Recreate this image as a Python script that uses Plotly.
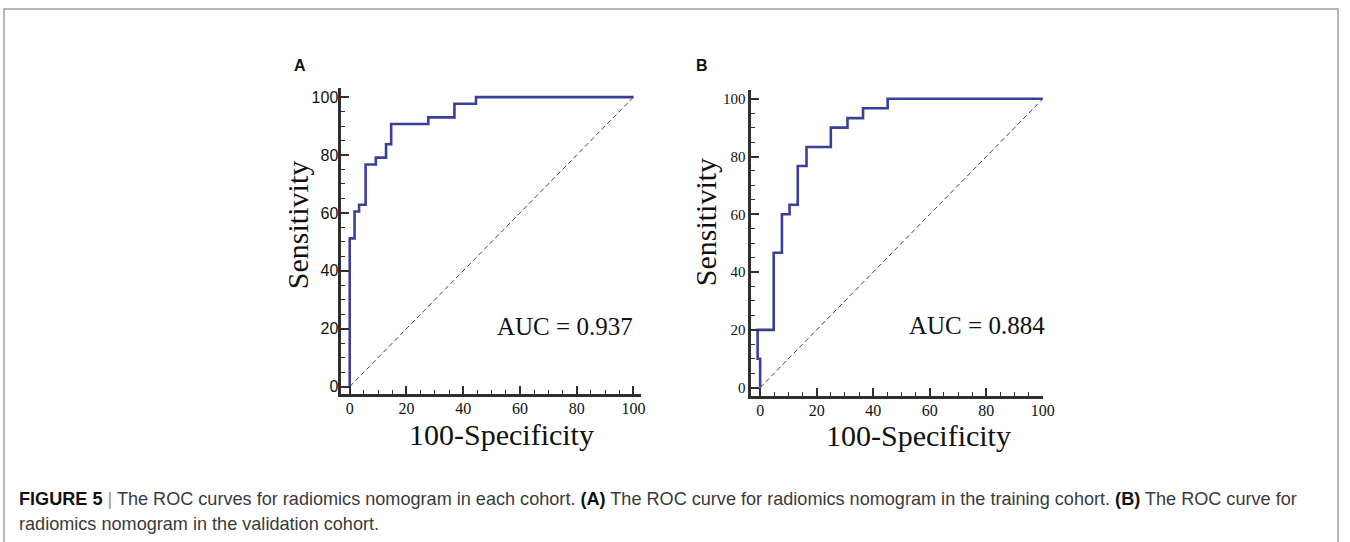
import plotly.graph_objects as go

# ---- data ----
fpr_train = [0, 0, 1.7, 3.3, 5.6, 9.2, 12.8, 14.6, 27.7, 36.9, 44.5, 100]
sens_train = [0, 51.2, 60.5, 62.8, 76.7, 79.1, 83.7, 90.7, 93.0, 97.7, 100, 100]

fpr_valid = [0, 0, -0.9, -0.9, 4.8, 7.7, 10.4, 13.3, 16.4, 25.0, 30.9, 36.4, 45.1, 100]
sens_valid = [0, 10, 10, 20, 46.7, 60, 63.3, 76.7, 83.3, 90, 93.3, 96.7, 100, 100]

ref_x = [0, 100]
ref_y = [0, 100]

tick_vals = [0, 20, 40, 60, 80, 100]
tick_text = ["0", "20", "40", "60", "80", "100"]

auc_train = "AUC = 0.937"
auc_valid = "AUC = 0.884"

caption1 = ("<b><span style='color:#111'>FIGURE 5</span></b> <span style='color:#999'>|</span> "
            "The ROC curves for radiomics nomogram in each cohort. <b><span style='color:#111'>(A)</span></b> "
            "The ROC curve for radiomics nomogram in the training cohort. <b><span style='color:#111'>(B)</span></b> "
            "The ROC curve for")
caption2 = "radiomics nomogram in the validation cohort."

W, H = 1350, 542
SERIF = "Liberation Serif, Times New Roman, serif"
SANS = "Liberation Sans, Arial, sans-serif"
CURVE = "#3b3f9c"
AX = "#2f2f2f"

fig = go.Figure()
fig.add_trace(go.Scatter(x=ref_x, y=ref_y, mode="lines", xaxis="x", yaxis="y",
                         line=dict(color="#444", width=1, dash="5px,3px"), showlegend=False))
fig.add_trace(go.Scatter(x=fpr_train, y=sens_train, mode="lines", xaxis="x", yaxis="y",
                         line=dict(color=CURVE, width=2.6, shape="hv"), showlegend=False))
fig.add_trace(go.Scatter(x=ref_x, y=ref_y, mode="lines", xaxis="x2", yaxis="y2",
                         line=dict(color="#444", width=1, dash="5px,3px"), showlegend=False))
fig.add_trace(go.Scatter(x=fpr_valid, y=sens_valid, mode="lines", xaxis="x2", yaxis="y2",
                         line=dict(color=CURVE, width=2.6, shape="hv"), showlegend=False))


def axis(domain, rng, anchor, font, size, standoff):
    return dict(domain=domain, range=rng, anchor=anchor, showline=True, linewidth=3,
                linecolor=AX, ticks="inside", ticklen=8, tickwidth=1.5, tickcolor=AX,
                tickvals=tick_vals, ticktext=tick_text, showgrid=False, zeroline=False,
                tickfont=dict(family=font, size=size, color="#111"),
                ticklabelstandoff=standoff,
                minor=dict(dtick=5, tick0=0, ticks="inside", ticklen=4, tickwidth=1.2,
                           tickcolor=AX, showgrid=False),
                fixedrange=True)


def px_x(p):
    return p / W


def px_y(p):
    return (H - p) / H


layout = dict(
    width=W, height=H, autosize=False,
    margin=dict(l=0, r=0, t=0, b=0),
    paper_bgcolor="white", plot_bgcolor="white",
    xaxis=axis([px_x(344.3), px_x(646.7)], [-2.9, 102.8], "y", SERIF, 16, -2),
    yaxis=axis([px_y(395), px_y(88)], [-2.65, 103.2], "x", SANS, 16, -3),
    xaxis2=axis([px_x(756.7), px_x(1052)], [-3.4, 100.2], "y2", SERIF, 16, -2),
    yaxis2=axis([px_y(396.7), px_y(90)], [-2.9, 103.1], "x2", SERIF, 15, -1),
)
fig.update_layout(**layout)


def note(x, y, text, family, size, color="#111", **kw):
    d = dict(x=x, y=y, xref="paper", yref="paper", text=text, showarrow=False,
             xanchor="center", yanchor="middle",
             font=dict(family=family, size=size, color=color))
    d.update(kw)
    return d


ann = []
ann.append(note(px_x(302), px_y(66), "<b>A</b>", SANS, 16))
ann.append(note(px_x(708), px_y(66), "<b>B</b>", SANS, 16))
for xc, yc in [(300, 226), (711.5, 223)]:
    ann.append(note(px_x(xc), px_y(yc), "Sensitivity", SERIF, 30, textangle=-90))
for xc, yc in [(505.8, 435), (925.8, 436)]:
    ann.append(note(px_x(xc), px_y(yc), "100-Specificity", SERIF, 30))
ann.append(note(75.7, 20.9, auc_train, SERIF, 25, xref="x", yref="y"))
ann.append(note(76.8, 21.5, auc_valid, SERIF, 25, xref="x2", yref="y2"))
ann.append(note(px_x(17), px_y(500), caption1, SANS, 18.1, color="#3a3a3a", xanchor="left"))
ann.append(note(px_x(17), px_y(525), caption2, SANS, 18.1, color="#3a3a3a", xanchor="left"))
fig.update_layout(annotations=ann)

fig.add_shape(type="rect", xref="paper", yref="paper", x0=px_x(4), x1=px_x(1349),
              y0=-0.1, y1=px_y(9), line=dict(color="#a0a0a0", width=1.5), layer="below")

fig.write_html("out.html", config={"responsive": False, "displayModeBar": False},
               post_script="document.body.style.margin='0';document.body.style.overflow='hidden';")
